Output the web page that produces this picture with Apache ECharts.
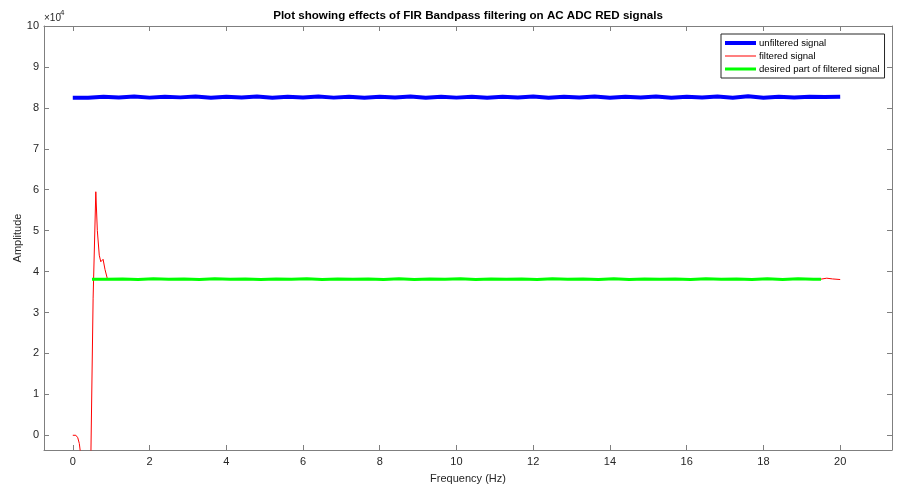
<!DOCTYPE html>
<html>
<head>
<meta charset="utf-8">
<script src="https://cdn.jsdelivr.net/npm/echarts@6/dist/echarts.min.js"></script>
<style>
html,body{margin:0;padding:0;background:#fff;}
#chart{width:902px;height:489px;}
</style>
</head>
<body>
<div id="chart"></div>
<script>
// ---- data ----
var xTicks = [0, 2, 4, 6, 8, 10, 12, 14, 16, 18, 20];
var yTicks = [0, 10000, 20000, 30000, 40000, 50000, 60000, 70000, 80000, 90000, 100000];

var blueX = [0, 0.4, 0.8, 1.2, 1.6, 2.0, 2.4, 2.8, 3.2, 3.6,
             4.0, 4.4, 4.8, 5.2, 5.6, 6.0, 6.4, 6.8, 7.2, 7.6,
             8.0, 8.4, 8.8, 9.2, 9.6, 10.0, 10.4, 10.8, 11.2, 11.6,
             12.0, 12.4, 12.8, 13.2, 13.6, 14.0, 14.4, 14.8, 15.2, 15.6,
             16.0, 16.4, 16.8, 17.2, 17.6, 18.0, 18.4, 18.8, 19.2, 19.6,
             20.0];
var blueY = [82450, 82480, 82700, 82520, 82760, 82500, 82740, 82560, 82780, 82490,
             82720, 82530, 82750, 82480, 82700, 82540, 82760, 82500, 82730, 82470,
             82710, 82520, 82770, 82490, 82720, 82500, 82740, 82470, 82700, 82530,
             82760, 82490, 82710, 82510, 82750, 82480, 82730, 82520, 82770, 82490,
             82700, 82530, 82760, 82480, 82820, 82460, 82740, 82510, 82720, 82650,
             82720];

var greenX = [0.5, 0.9, 1.3, 1.7, 2.1, 2.5, 2.9, 3.3, 3.7, 4.1,
              4.5, 4.9, 5.3, 5.7, 6.1, 6.5, 6.9, 7.3, 7.7, 8.1,
              8.5, 8.9, 9.3, 9.7, 10.1, 10.5, 10.9, 11.3, 11.7, 12.1,
              12.5, 12.9, 13.3, 13.7, 14.1, 14.5, 14.9, 15.3, 15.7, 16.1,
              16.5, 16.9, 17.3, 17.7, 18.1, 18.5, 18.9, 19.3, 19.5];
var greenY = [38100, 38120, 38180, 38080, 38220, 38100, 38200, 38090, 38230, 38110,
              38210, 38080, 38190, 38100, 38220, 38070, 38200, 38110, 38190, 38080,
              38220, 38090, 38200, 38100, 38230, 38080, 38210, 38110, 38190, 38070,
              38220, 38100, 38200, 38080, 38230, 38090, 38190, 38110, 38210, 38080,
              38220, 38100, 38200, 38090, 38240, 38080, 38230, 38100, 38150];

var redHeadX = [0, 0.08, 0.13, 0.17, 0.21, 0.3, 0.42, 0.47, 0.53, 0.6, 0.64, 0.69, 0.73, 0.79, 0.84, 0.9];
var redHeadY = [0, 0, -600, -2000, -5000, -15000, -12000, -6000, 33500, 59500, 50000, 44000, 42400, 43000, 40500, 38300];
var redTailX = [19.65, 19.8, 20.0];
var redTailY = [38380, 38200, 38050];

var seriesNames = ['unfiltered signal', 'filtered signal', 'desired part of filtered signal'];

function pairs(xs, ys) { return xs.map(function (x, i) { return [x, ys[i]]; }); }

var blueData = pairs(blueX, blueY);
var greenData = pairs(greenX, greenY);
var redData = pairs(redHeadX, redHeadY)
  .concat(pairs(greenX.slice(2), greenY.slice(2)))
  .concat(pairs(redTailX, redTailY));

var FONT = 'Liberation Sans, Arial, Helvetica, sans-serif';
var AX = '#7f7f7f';
var TXT = '#262626';

function xAx(pos, show) {
  return {
    type: 'value', position: pos, min: -0.75, max: 21.35,
    axisLine: { show: true, onZero: false, lineStyle: { color: AX, width: 1 } },
    axisTick: { show: true, inside: true, length: 5, customValues: xTicks, lineStyle: { color: AX } },
    axisLabel: { show: show, customValues: xTicks, color: TXT, fontSize: 11, fontFamily: FONT, margin: 6 },
    splitLine: { show: false },
    name: show ? 'Frequency (Hz)' : '', nameLocation: 'middle', nameGap: 23, nameMoveOverlap: false,
    nameTextStyle: { color: TXT, fontSize: 11, fontFamily: FONT }
  };
}
function yAx(pos, show) {
  return {
    type: 'value', position: pos, min: -3600, max: 100000,
    axisLine: { show: true, onZero: false, lineStyle: { color: AX, width: 1 } },
    axisTick: { show: true, inside: true, length: 5, customValues: yTicks, lineStyle: { color: AX } },
    axisLabel: { show: show, customValues: yTicks, color: TXT, fontSize: 11, fontFamily: FONT, margin: 5,
      formatter: function (v) { return String(Math.round(v / 10000)); } },
    splitLine: { show: false },
    name: show ? 'Amplitude' : '', nameLocation: 'middle', nameGap: 21, nameMoveOverlap: false,
    nameTextStyle: { color: TXT, fontSize: 11, fontFamily: FONT }
  };
}

function legendIcon(th) {
  var a = (10 - th) / 2, b = a + th;
  return 'path://M0,0H0.01V0.01H0Z M0,9.99H0.01V10H0Z M0,' + a + 'H31V' + b + 'H0Z';
}

var chart = echarts.init(document.getElementById('chart'), null, { renderer: 'canvas' });
chart.setOption({
  animation: false,
  backgroundColor: '#ffffff',
  textStyle: { fontFamily: FONT },
  grid: { left: 44, right: 10, top: 26, bottom: 39, outerBoundsMode: 'none', containLabel: false },
  xAxis: [xAx('bottom', true), xAx('top', false)],
  yAxis: [yAx('left', true), yAx('right', false)],
  legend: {
    orient: 'vertical', left: 721, top: 34,
    padding: [4, 5, 4, 4], itemGap: 3, itemWidth: 31, itemHeight: 10,
    backgroundColor: '#fff', borderColor: '#262626', borderWidth: 1,
    textStyle: { fontSize: 9.6, color: '#000', fontFamily: FONT, padding: [0, 0, 0, -2] },
    data: [
      { name: seriesNames[0], icon: legendIcon(4), itemStyle: { color: '#0000ff' } },
      { name: seriesNames[1], icon: legendIcon(1), itemStyle: { color: '#ff0000' } },
      { name: seriesNames[2], icon: legendIcon(3), itemStyle: { color: '#00ff00' } }
    ]
  },
  graphic: [
    { type: 'text', x: 468, y: 10,
      style: { text: 'Plot showing effects of FIR Bandpass filtering on AC ADC RED signals',
        align: 'center', verticalAlign: 'top', fill: '#000', fontSize: 11.6, fontWeight: 'bold', fontFamily: FONT } },
    { type: 'text', x: 44, y: 13,
      style: { text: '×10', fill: TXT, fontSize: 10, fontFamily: FONT, verticalAlign: 'top' } },
    { type: 'text', x: 60, y: 9,
      style: { text: '4', fill: TXT, fontSize: 8, fontFamily: FONT, verticalAlign: 'top' } }
  ],
  series: [
    { name: seriesNames[0], type: 'line', data: blueData, showSymbol: false, symbol: 'none',
      lineStyle: { color: '#0000ff', width: 4 }, itemStyle: { color: '#0000ff' } },
    { name: seriesNames[1], type: 'line', data: redData, showSymbol: false, symbol: 'none',
      lineStyle: { color: '#ff0000', width: 1 }, itemStyle: { color: '#ff0000' } },
    { name: seriesNames[2], type: 'line', data: greenData, showSymbol: false, symbol: 'none',
      lineStyle: { color: '#00ff00', width: 3 }, itemStyle: { color: '#00ff00' } }
  ]
});
</script>
</body>
</html>
